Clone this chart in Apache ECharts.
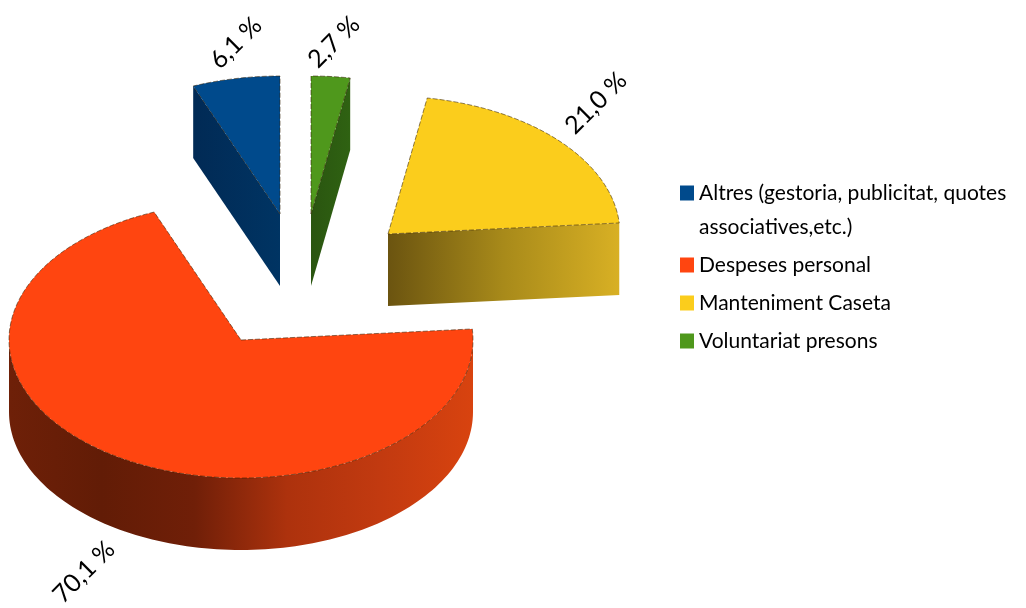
<!DOCTYPE html>
<html>
<head>
<meta charset="utf-8">
<title>Despeses</title>
<script src="https://cdn.jsdelivr.net/npm/echarts@6/dist/echarts.min.js"></script>
<style>
  html, body { margin: 0; padding: 0; background: #fff; }
  #chart { width: 1026px; height: 608px; }
</style>
</head>
<body>
<div id="chart"></div>
<script>
// data (percent)
var categories = [
  "Altres (gestoria, publicitat, quotes\nassociatives,etc.)",
  "Despeses personal",
  "Manteniment Caseta",
  "Voluntariat presons"
];
var values = [6.1, 70.1, 21.0, 2.7];

// look of each slice, same order as categories
var faceColors = ["#004a8c", "#ff4510", "#fbcd1c", "#4f981c"];
var wallStops = [
  ["#012a55", "#003463"],
  ["#6e2008", "#621c06", "#701f08", "#ad320d", "#c23a10", "#d8430f"],
  ["#6b5410", "#a88a1a", "#d8b024"],
  ["#2a5510", "#2f6212"]
];
// where the point of each slice sits once pulled out of the pie
var apexX = [280, 241, 388, 311];
var apexY = [214, 340, 234, 214];
var labelX = [236, 84, 596, 334];
var labelY = [43, 572, 103, 42];

var RX = 232, RY = 138, DEPTH = 72;
var total = values.reduce(function (a, b) { return a + b; }, 0);

// slices run counter-clockwise from 12 o'clock, angle is clockwise degrees
function sliceRange(idx) {
  var end = 360;
  for (var i = 0; i < idx; i++) end -= values[i] / total * 360;
  return [end - values[idx] / total * 360, end];
}

function rimPoint(idx, deg, drop) {
  var t = deg * Math.PI / 180;
  return [
    apexX[idx] + RX * Math.sin(t),
    apexY[idx] - RY * Math.cos(t) + (drop || 0)
  ];
}

function arcPoints(idx, from, to, drop) {
  var pts = [];
  var n = Math.max(2, Math.ceil((to - from) / 1.5));
  for (var i = 0; i <= n; i++) {
    pts.push(rimPoint(idx, from + (to - from) * i / n, drop));
  }
  return pts;
}

function wallFill(idx) {
  var stops = wallStops[idx].map(function (c, i, all) {
    return { offset: i / (all.length - 1), color: c };
  });
  return new echarts.graphic.LinearGradient(0, 0, 1, 0, stops);
}

function radialWall(idx, deg) {
  var p = rimPoint(idx, deg);
  var a = [apexX[idx], apexY[idx]];
  return {
    type: "polygon",
    shape: { points: [a, p, [p[0], p[1] + DEPTH], [a[0], a[1] + DEPTH]] },
    style: { fill: wallFill(idx) }
  };
}

function renderSlice(idx) {
  var range = sliceRange(idx);
  var start = range[0], end = range[1];
  var kids = [];
  var rad = Math.PI / 180;

  // inner walls, only the ones turned to the viewer
  if (Math.cos((start - 90) * rad) < -0.01) kids.push(radialWall(idx, start));
  if (Math.cos((end + 90) * rad) < -0.01) kids.push(radialWall(idx, end));

  // outer wall: only the front half of the rim shows
  var from = Math.max(start, 90), to = Math.min(end, 270);
  if (to > from) {
    var top = arcPoints(idx, from, to, 0);
    var bottom = arcPoints(idx, from, to, DEPTH).reverse();
    kids.push({
      type: "polygon",
      shape: { points: top.concat(bottom) },
      style: { fill: wallFill(idx) }
    });
  }

  // top face
  var face = [[apexX[idx], apexY[idx]]].concat(arcPoints(idx, start, end, 0));
  kids.push({
    type: "polygon",
    shape: { points: face },
    style: {
      fill: faceColors[idx],
      stroke: "rgba(50,30,0,0.55)",
      lineWidth: 1,
      lineDash: [5, 2]
    }
  });

  kids.push({
    type: "text",
    x: labelX[idx],
    y: labelY[idx],
    rotation: Math.PI / 4,
    style: {
      text: values[idx].toFixed(1).replace(".", ",") + " %",
      fill: "#000",
      align: "center",
      verticalAlign: "middle",
      font: "25px Lato, sans-serif"
    }
  });
  return { type: "group", children: kids };
}

var seriess = categories.map(function (name, idx) {
  return {
    name: name,
    type: "custom",
    coordinateSystem: "none",
    silent: true,
    itemStyle: { color: faceColors[idx] },
    data: [values[idx]],
    renderItem: function () {
      return renderSlice(idx);
    }
  };
});

var myChart = echarts.init(document.getElementById("chart"));
myChart.setOption({
  animation: false,
  backgroundColor: "#fff",
  tooltip: { show: false },
  legend: {
    orient: "vertical",
    left: 675,
    top: 137,
    icon: "rect",
    itemWidth: 14,
    itemHeight: 15,
    itemGap: 4,
    selectedMode: false,
    data: categories,
    // leading blank line keeps the marker level with the first line of a wrapped name
    formatter: function (name) {
      return name.indexOf("\n") >= 0 ? "\n" + name : name;
    },
    textStyle: {
      fontFamily: "Lato, sans-serif",
      fontSize: 21,
      lineHeight: 34,
      color: "#000",
      padding: [0, 0, 0, 0]
    }
  },
  series: seriess
});
</script>
</body>
</html>
